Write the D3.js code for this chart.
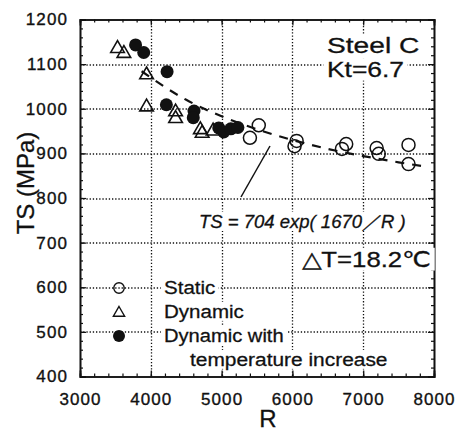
<!DOCTYPE html>
<html>
<head>
<meta charset="utf-8">
<script src="https://cdn.jsdelivr.net/npm/d3@7"></script>
<style>
  body { margin: 0; background: #fff; }
  text { font-family: "Liberation Sans", Arial, Helvetica, sans-serif; fill: #111; }
</style>
</head>
<body>
<div id="chart"></div>
<script>
// Static tests (open circles)
const staticR  = [5400, 5525, 6030, 6060, 6700, 6760, 7190, 7220, 7640, 7640];
const staticTS = [935, 963, 916, 928, 910, 921, 912, 899, 919, 876];
// Dynamic tests (open triangles)
const dynR  = [3530, 3620, 3940, 3940, 4350, 4350, 4700, 4725, 4880];
const dynTS = [1135, 1124, 1076, 1004, 993, 978, 953, 945, 950];
// Dynamic with temperature increase (filled circles)
const hotR  = [3785, 3900, 4230, 4220, 4610, 4600, 4960, 5030, 5130, 5230];
const hotTS = [1143, 1126, 1083, 1009, 995, 980, 957, 948, 955, 958];
// fitted curve TS = 704 exp(1670/R), read at a few R
const fitR  = [3870, 4500, 5000, 5500, 6000, 6500, 7000, 7500, 7900];
const fitTS = [1084, 1020, 983, 954, 930, 910, 894, 880, 870];

const xTicks = [3000, 4000, 5000, 6000, 7000, 8000];
const yTicks = [400, 500, 600, 700, 800, 900, 1000, 1100, 1200];

const margin = {top: 19.5, right: 27, bottom: 57.5, left: 80},
      width = 434 - margin.left,
      height = 376.5 - margin.top;

const svg = d3.select("#chart")
  .append("svg")
    .attr("width", 461)
    .attr("height", 434)
  .append("g")
    .attr("transform", `translate(${margin.left},${margin.top})`);

const x = d3.scaleLinear().domain([3000, 8000]).range([0, width]);
const y = d3.scaleLinear().domain([400, 1200]).range([height, 0]);

// dotted grid
const grid = svg.append("g")
    .attr("stroke", "#111")
    .attr("stroke-width", 1.3)
    .attr("stroke-dasharray", "1.3,1.9");
grid.selectAll(".gx")
  .data(xTicks.slice(1, -1))
  .enter().append("line")
    .attr("x1", d => Math.round(x(d)) + 0.5)
    .attr("x2", d => Math.round(x(d)) + 0.5)
    .attr("y1", 0).attr("y2", height);
grid.selectAll(".gy")
  .data(yTicks.slice(1, -1))
  .enter().append("line")
    .attr("y1", d => Math.round(y(d)) + 0.5)
    .attr("y2", d => Math.round(y(d)) + 0.5)
    .attr("x1", 0).attr("x2", width);

// axes with inward ticks on all four sides
function ticksAt(scale, step) {
  const [a, b] = scale.domain();
  return d3.range(a, b + 1, step);
}
const axes = svg.append("g");
const minorX = ticksAt(x, 200), minorY = ticksAt(y, 20);

axes.append("g")
    .attr("transform", `translate(0,${height})`)
    .call(d3.axisBottom(x).tickValues(minorX).tickSize(-3).tickFormat(""));
axes.append("g")
    .attr("transform", `translate(0,${height})`)
    .call(d3.axisBottom(x).tickValues(xTicks).tickSize(-6).tickPadding(16)
      .tickFormat(d3.format("d")))
    .call(g => g.selectAll("text").attr("class", "tl"));
axes.append("g")
    .call(d3.axisTop(x).tickValues(minorX).tickSize(-3).tickFormat(""));
axes.append("g")
    .call(d3.axisTop(x).tickValues(xTicks).tickSize(-6).tickFormat(""));
axes.append("g")
    .call(d3.axisLeft(y).tickValues(minorY).tickSize(-3).tickFormat(""));
axes.append("g")
    .call(d3.axisLeft(y).tickValues(yTicks).tickSize(-6).tickPadding(12)
      .tickFormat(d3.format("d")))
    .call(g => g.selectAll("text").attr("class", "tl"));
axes.append("g")
    .attr("transform", `translate(${width},0)`)
    .call(d3.axisRight(y).tickValues(minorY).tickSize(-3).tickFormat(""));
axes.append("g")
    .attr("transform", `translate(${width},0)`)
    .call(d3.axisRight(y).tickValues(yTicks).tickSize(-6).tickFormat(""));

axes.selectAll(".domain").attr("stroke", "#111").attr("stroke-width", 1.6);
axes.selectAll(".tick line").attr("stroke", "#111").attr("stroke-width", 1.2);
axes.selectAll(".tl")
    .attr("fill", "#111")
    .attr("stroke", "#111")
    .attr("stroke-width", 0.35)
    .style("font-size", "17px")
    .style("letter-spacing", "1.1px")
    .style("font-family", "'Liberation Sans', Arial, sans-serif");

// texts with white boxes behind them, so grid is hidden; sx stretches wide
function label(px, py, str, size, opts = {}) {
  const g = svg.append("g")
      .attr("transform", `translate(${px - margin.left},${py - margin.top}) scale(${opts.sx || 1},1)`);
  const t = g.append("text")
      .attr("text-anchor", opts.anchor || "start")
      .attr("stroke", "#111")
      .attr("stroke-width", 0.3)
      .style("font-size", size + "px")
      .style("font-style", opts.italic ? "italic" : null)
      .text(str);
  if (opts.box !== false) {
    const b = t.node().getBBox();
    g.insert("rect", "text")
        .attr("x", b.x - 3).attr("y", b.y + 1)
        .attr("width", b.width + 6).attr("height", b.height - 2)
        .attr("fill", "#fff");
  }
  return t;
}

// axis titles
label(268, 427, "R", 24, {anchor: "middle", box: false});
svg.append("text")
    .attr("transform", `translate(${34 - margin.left},${183 - margin.top}) rotate(-90)`)
    .attr("text-anchor", "middle")
    .attr("stroke", "#111")
    .attr("stroke-width", 0.3)
    .style("font-size", "24px")
    .text("TS (MPa)");

label(327, 53, "Steel C", 22, {sx: 1.28});
label(327, 77, "Kt=6.7", 22, {sx: 1.2});
label(302, 267, "\u25B3T=18.2\u2103", 22, {sx: 1.17});
label(199, 228, "TS = 704 exp( 1670\uFF0FR )", 18.5, {italic: true});
label(164, 294, "Static", 19, {sx: 1.08});
label(164, 318, "Dynamic", 19, {sx: 1.08});
label(164, 342, "Dynamic with", 19, {sx: 1.06});
label(190, 366, "temperature increase", 19, {sx: 1.1});

// pointer to fit curve
svg.append("line")
    .attr("x1", 270 - margin.left).attr("y1", 146 - margin.top)
    .attr("x2", 241 - margin.left).attr("y2", 197 - margin.top)
    .attr("stroke", "#111").attr("stroke-width", 1.5);

// fit line
svg.append("path")
    .datum(fitR.map((r, i) => [r, fitTS[i]]))
    .attr("fill", "none")
    .attr("stroke", "#111")
    .attr("stroke-width", 2.2)
    .attr("stroke-dasharray", "9,8")
    .attr("d", d3.line().x(d => x(d[0])).y(d => y(d[1])).curve(d3.curveMonotoneX));

// markers
const tri = d3.symbol().type(d3.symbolTriangle).size(80);
svg.selectAll(".dyn")
  .data(dynR.map((r, i) => [r, dynTS[i]]))
  .enter().append("path")
    .attr("d", tri)
    .attr("transform", d => `translate(${x(d[0])},${y(d[1])})`)
    .attr("fill", "none").attr("stroke", "#111").attr("stroke-width", 1.6);
svg.selectAll(".st")
  .data(staticR.map((r, i) => [r, staticTS[i]]))
  .enter().append("circle")
    .attr("cx", d => x(d[0])).attr("cy", d => y(d[1])).attr("r", 6.5)
    .attr("fill", "none").attr("stroke", "#111").attr("stroke-width", 1.5);
svg.selectAll(".hot")
  .data(hotR.map((r, i) => [r, hotTS[i]]))
  .enter().append("circle")
    .attr("cx", d => x(d[0])).attr("cy", d => y(d[1])).attr("r", 6.5)
    .attr("fill", "#111");

// legend symbols
const lx = 119 - margin.left;
svg.append("circle").attr("cx", lx).attr("cy", 288 - margin.top).attr("r", 5.2)
    .attr("fill", "none").attr("stroke", "#111").attr("stroke-width", 1.4);
svg.append("path").attr("d", d3.symbol().type(d3.symbolTriangle).size(55))
    .attr("transform", `translate(${lx},${313 - margin.top})`)
    .attr("fill", "none").attr("stroke", "#111").attr("stroke-width", 1.4);
svg.append("circle").attr("cx", lx).attr("cy", 336 - margin.top).attr("r", 6)
    .attr("fill", "#111");
</script>
</body>
</html>
